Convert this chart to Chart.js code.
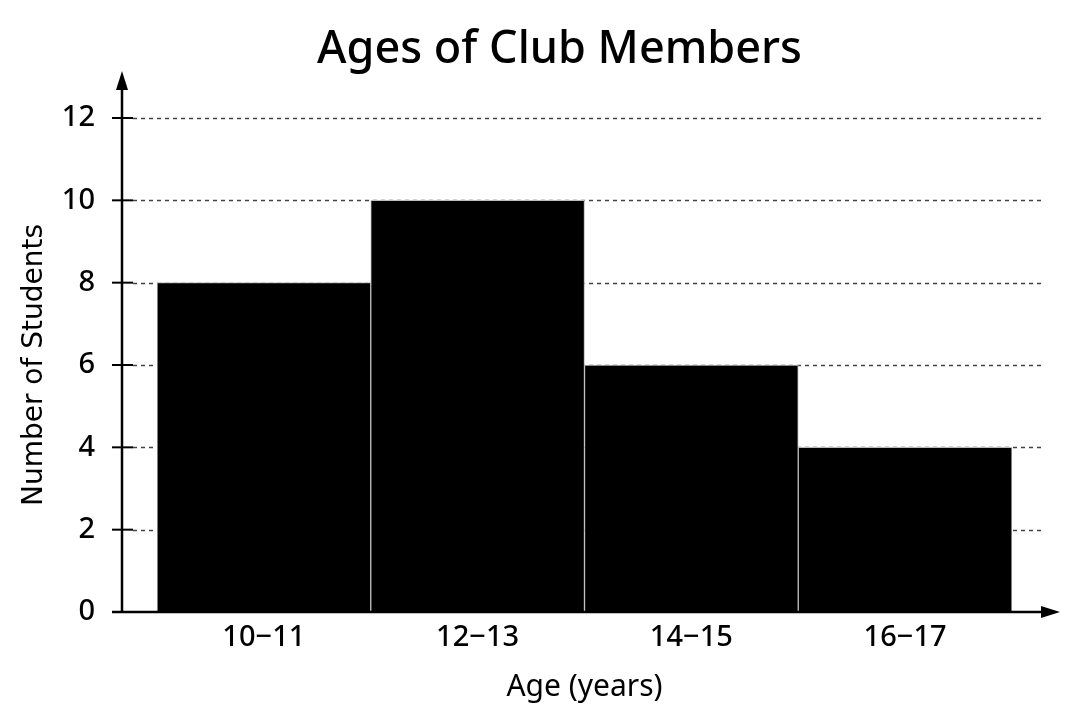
<!DOCTYPE html>
<html>
<head>
<meta charset="utf-8">
<title>Ages of Club Members</title>
<script src="https://cdn.jsdelivr.net/npm/chart.js@4"></script>
<style>
	html, body { margin: 0; padding: 0; background: #fff; }
	.chart-box { width: 1069px; height: 717px; }
</style>
</head>
<body>
<div class="chart-box"><canvas id="myChart"></canvas></div>
<script>
const ageGroups = ['10\u221211', '12\u221213', '14\u221215', '16\u221217'];
const students = [8, 10, 6, 4];
const yTicks = [0, 2, 4, 6, 8, 10, 12];
const chartTitle = 'Ages of Club Members';

// title, axes with arrows + dotted grid, drawn outside the bar area
const axesArrows = {
	id: 'axesArrows',
	beforeDatasetsDraw(chart) {
		const ctx = chart.ctx, y = chart.scales.y;
		const axisX = chart.chartArea.left - 35;
		ctx.save();
		ctx.strokeStyle = '#444';
		ctx.lineWidth = 1.5;
		ctx.setLineDash([4, 4]);
		yTicks.forEach(function (v) {
			if (v === 0) return;
			const py = Math.round(y.getPixelForValue(v)) + 0.5;
			ctx.beginPath();
			ctx.moveTo(axisX + 11, py);
			ctx.lineTo(chart.chartArea.right + 30, py);
			ctx.stroke();
		});
		ctx.restore();
	},
	afterDatasetsDraw(chart) {
		const ctx = chart.ctx, y = chart.scales.y;
		const area = chart.chartArea;
		const axisX = area.left - 35;
		const base = y.getPixelForValue(0);
		ctx.save();
		// title
		ctx.fillStyle = '#000';
		ctx.font = '500 45px "Noto Sans"';
		ctx.textAlign = 'center';
		ctx.textBaseline = 'alphabetic';
		ctx.fillText(chartTitle, (area.left + area.right) / 2 - 25, 63);
		ctx.strokeStyle = '#000';
		ctx.lineWidth = 2.5;
		// y axis
		ctx.beginPath();
		ctx.moveTo(axisX, base);
		ctx.lineTo(axisX, area.top - 40);
		ctx.stroke();
		ctx.beginPath();
		ctx.moveTo(axisX, area.top - 47);
		ctx.lineTo(axisX - 6, area.top - 28);
		ctx.lineTo(axisX + 6, area.top - 28);
		ctx.closePath();
		ctx.fill();
		// x axis
		ctx.beginPath();
		ctx.moveTo(axisX - 10, base);
		ctx.lineTo(area.right + 40, base);
		ctx.stroke();
		ctx.beginPath();
		ctx.moveTo(area.right + 48, base);
		ctx.lineTo(area.right + 29, base - 6);
		ctx.lineTo(area.right + 29, base + 6);
		ctx.closePath();
		ctx.fill();
		// tick marks
		ctx.lineWidth = 2;
		yTicks.forEach(function (v) {
			const py = y.getPixelForValue(v);
			ctx.beginPath();
			ctx.moveTo(axisX - 10, py);
			ctx.lineTo(axisX + 11, py);
			ctx.stroke();
		});
		ctx.restore();
	}
};

new Chart(document.getElementById('myChart'), {
	type: 'bar',
	data: {
		labels: ageGroups,
		datasets: [{
			data: students,
			backgroundColor: '#000',
			borderColor: '#bdbdbd',
			borderWidth: 1,
			barPercentage: 1,
			categoryPercentage: 1
		}]
	},
	options: {
		responsive: true,
		maintainAspectRatio: false,
		animation: false,
		layout: { padding: { left: 0, right: 57, top: 118, bottom: 0 } },
		plugins: {
			legend: { display: false },
			tooltip: { enabled: false },
			title: { display: false }
		},
		scales: {
			x: {
				grid: { display: false },
				border: { display: false },
				ticks: {
					color: '#000',
					padding: 0,
					font: { family: 'Noto Sans', size: 29, weight: '500' }
				},
				title: {
					display: true,
					text: 'Age (years)',
					color: '#000',
					font: { family: 'Noto Sans', size: 30 },
					padding: { top: 0, bottom: 12 }
				},
				afterFit: function (scale) { scale.height = 105; }
			},
			y: {
				min: 0,
				max: 12,
				grid: { display: false },
				border: { display: false },
				ticks: {
					stepSize: 2,
					color: '#000',
					padding: 54,
					font: { family: 'Noto Sans', size: 29, weight: '500' }
				},
				title: {
					display: true,
					text: 'Number of Students',
					color: '#000',
					font: { family: 'DejaVu Sans', size: 28 },
					padding: { top: 18, bottom: 0 }
				},
				afterFit: function (scale) { scale.width = 157; }
			}
		}
	},
	plugins: [axesArrows]
});
</script>
</body>
</html>
